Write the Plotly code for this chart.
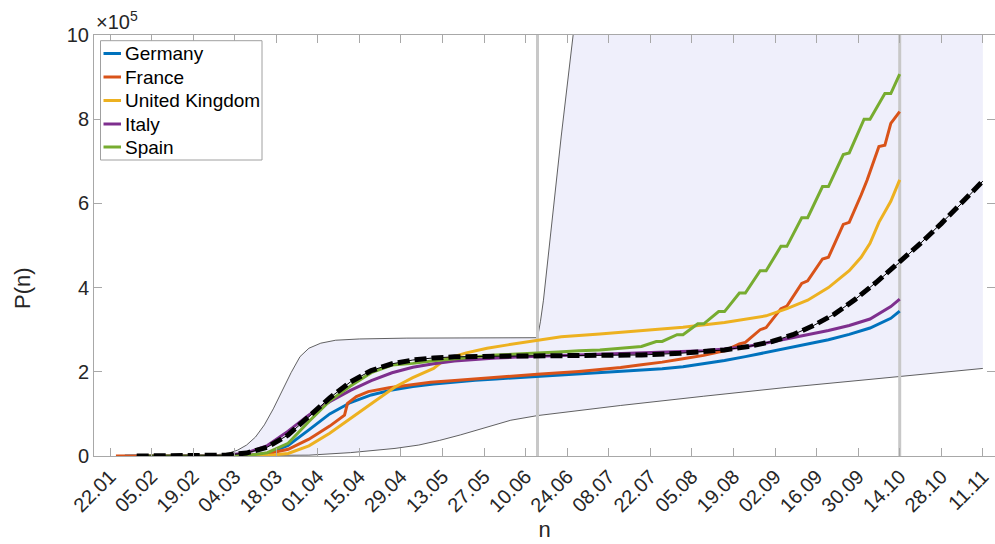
import plotly.graph_objects as go

# Cumulative confirmed cases, in units of 10^5
germany_dates = ["2020-01-27", "2020-02-26", "2020-03-01", "2020-03-08", "2020-03-15", "2020-03-22",
                 "2020-03-29", "2020-04-05", "2020-04-12", "2020-04-19", "2020-04-26", "2020-05-03",
                 "2020-05-10", "2020-05-17", "2020-05-24", "2020-05-31", "2020-06-07", "2020-06-14",
                 "2020-06-21", "2020-06-28", "2020-07-05", "2020-07-12", "2020-07-19", "2020-07-26",
                 "2020-08-02", "2020-08-09", "2020-08-16", "2020-08-23", "2020-08-30", "2020-09-06",
                 "2020-09-13", "2020-09-20", "2020-09-27", "2020-10-04", "2020-10-11", "2020-10-14"]
germany_vals = [0, 0.0002, 0.0013, 0.01, 0.058, 0.25,
                0.62, 1.00, 1.27, 1.45, 1.57, 1.65,
                1.71, 1.76, 1.80, 1.83, 1.86, 1.88,
                1.91, 1.95, 1.97, 2.00, 2.03, 2.07,
                2.12, 2.19, 2.27, 2.36, 2.46, 2.55,
                2.65, 2.76, 2.89, 3.04, 3.27, 3.44]

france_dates = ["2020-01-24", "2020-02-25", "2020-03-01", "2020-03-08", "2020-03-15", "2020-03-22",
                "2020-03-29", "2020-04-05", "2020-04-10", "2020-04-11", "2020-04-14", "2020-04-18",
                "2020-04-25", "2020-05-02", "2020-05-09", "2020-05-16", "2020-05-23", "2020-05-30",
                "2020-06-06", "2020-06-14", "2020-06-28", "2020-07-12", "2020-07-19", "2020-07-26",
                "2020-08-02", "2020-08-09", "2020-08-14", "2020-08-16", "2020-08-21", "2020-08-23",
                "2020-08-28", "2020-08-30", "2020-09-04", "2020-09-06", "2020-09-11", "2020-09-13",
                "2020-09-18", "2020-09-20", "2020-09-25", "2020-09-27", "2020-10-01", "2020-10-03",
                "2020-10-07", "2020-10-09", "2020-10-11", "2020-10-14"]
france_vals = [0, 0.0002, 0.001, 0.011, 0.055, 0.16,
               0.40, 0.71, 0.97, 1.25, 1.41, 1.53,
               1.62, 1.68, 1.75, 1.79, 1.83, 1.87,
               1.91, 1.94, 2.01, 2.10, 2.17, 2.23,
               2.31, 2.39, 2.47, 2.50, 2.66, 2.70,
               3.00, 3.05, 3.50, 3.56, 4.10, 4.16,
               4.68, 4.72, 5.50, 5.55, 6.20, 6.55,
               7.35, 7.38, 7.90, 8.18]

uk_dates = ["2020-01-31", "2020-03-01", "2020-03-08", "2020-03-15", "2020-03-22", "2020-03-29",
            "2020-04-05", "2020-04-12", "2020-04-19", "2020-04-27", "2020-05-03", "2020-05-10",
            "2020-05-14", "2020-05-21", "2020-05-28", "2020-06-04", "2020-06-14", "2020-06-22",
            "2020-07-05", "2020-07-19", "2020-08-02", "2020-08-16", "2020-08-30", "2020-09-06",
            "2020-09-13", "2020-09-20", "2020-09-27", "2020-10-01", "2020-10-04", "2020-10-07",
            "2020-10-11", "2020-10-14"]
uk_vals = [0, 0.0004, 0.003, 0.012, 0.06, 0.24,
           0.54, 0.90, 1.24, 1.64, 1.86, 2.08,
           2.30, 2.45, 2.56, 2.64, 2.74, 2.83,
           2.90, 2.98, 3.06, 3.17, 3.33, 3.50,
           3.70, 4.00, 4.40, 4.72, 5.05, 5.55,
           6.05, 6.56]

italy_dates = ["2020-01-31", "2020-02-21", "2020-02-24", "2020-03-01", "2020-03-08", "2020-03-15",
               "2020-03-22", "2020-03-29", "2020-04-05", "2020-04-12", "2020-04-19", "2020-04-26",
               "2020-05-03", "2020-05-10", "2020-05-17", "2020-05-24", "2020-05-31", "2020-06-07",
               "2020-06-14", "2020-06-28", "2020-07-12", "2020-07-26", "2020-08-09", "2020-08-16",
               "2020-08-23", "2020-08-30", "2020-09-06", "2020-09-13", "2020-09-20", "2020-09-27",
               "2020-10-04", "2020-10-11", "2020-10-14"]
italy_vals = [0, 0.0002, 0.0023, 0.017, 0.074, 0.247,
              0.59, 0.977, 1.29, 1.56, 1.79, 1.977,
              2.107, 2.19, 2.254, 2.299, 2.327, 2.349,
              2.367, 2.404, 2.43, 2.46, 2.501, 2.539,
              2.593, 2.682, 2.776, 2.878, 2.982, 3.099,
              3.253, 3.549, 3.728]

spain_dates = ["2020-02-01", "2020-02-25", "2020-03-01", "2020-03-08", "2020-03-15", "2020-03-22",
               "2020-03-29", "2020-04-05", "2020-04-12", "2020-04-19", "2020-04-26", "2020-05-03",
               "2020-05-10", "2020-05-17", "2020-05-24", "2020-05-31", "2020-06-07", "2020-06-14",
               "2020-06-21", "2020-06-28", "2020-07-05", "2020-07-12", "2020-07-17", "2020-07-19",
               "2020-07-24", "2020-07-26", "2020-07-31", "2020-08-02", "2020-08-07", "2020-08-09",
               "2020-08-14", "2020-08-16", "2020-08-21", "2020-08-23", "2020-08-28", "2020-08-30",
               "2020-09-04", "2020-09-06", "2020-09-11", "2020-09-13", "2020-09-18", "2020-09-20",
               "2020-09-25", "2020-09-27", "2020-10-02", "2020-10-04", "2020-10-09", "2020-10-11",
               "2020-10-14"]
spain_vals = [0, 0.0001, 0.0008, 0.007, 0.078, 0.30,
              0.82, 1.31, 1.66, 1.98, 2.16, 2.20,
              2.26, 2.31, 2.36, 2.40, 2.42, 2.44,
              2.47, 2.50, 2.52, 2.56, 2.60, 2.60,
              2.72, 2.72, 2.88, 2.88, 3.14, 3.14,
              3.43, 3.43, 3.87, 3.87, 4.40, 4.40,
              4.98, 4.98, 5.66, 5.66, 6.40, 6.40,
              7.16, 7.20, 8.00, 8.00, 8.61, 8.61,
              9.07]

# Fitted model P(n), continued past the last observation
model_dates = ["2020-01-31", "2020-02-20", "2020-03-01", "2020-03-08", "2020-03-15", "2020-03-22",
               "2020-03-29", "2020-04-05", "2020-04-12", "2020-04-19", "2020-04-26", "2020-05-03",
               "2020-05-10", "2020-05-17", "2020-05-31", "2020-06-14", "2020-07-01", "2020-07-19",
               "2020-08-01", "2020-08-16", "2020-08-24", "2020-09-01", "2020-09-08", "2020-09-15",
               "2020-09-22", "2020-09-29", "2020-10-06", "2020-10-14", "2020-10-21", "2020-10-28",
               "2020-11-04", "2020-11-11"]
model_vals = [0, 0.001, 0.02, 0.07, 0.21, 0.50,
              0.93, 1.38, 1.76, 2.03, 2.19, 2.28,
              2.33, 2.355, 2.37, 2.375, 2.38, 2.40,
              2.44, 2.52, 2.60, 2.72, 2.88, 3.10,
              3.37, 3.72, 4.12, 4.60, 5.05, 5.52,
              6.01, 6.53]

# Confidence band of the model
upper_dates = ["2020-01-31", "2020-02-20", "2020-02-27", "2020-03-02", "2020-03-05", "2020-03-08",
               "2020-03-11", "2020-03-14", "2020-03-17", "2020-03-20", "2020-03-23", "2020-03-26",
               "2020-03-29", "2020-04-02", "2020-04-07", "2020-04-15", "2020-05-01", "2020-06-14",
               "2020-06-15", "2020-06-16", "2020-06-19", "2020-06-22", "2020-06-26", "2020-07-01",
               "2020-07-10", "2020-11-11"]
upper_vals = [0, 0.005, 0.03, 0.07, 0.14, 0.26,
              0.45, 0.74, 1.12, 1.56, 1.98, 2.36,
              2.56, 2.68, 2.75, 2.78, 2.80, 2.81,
              3.2, 3.7, 5.7, 7.6, 10.0, 13.5,
              20.0, 200.0]
lower_dates = ["2020-01-31", "2020-03-15", "2020-03-29", "2020-04-12", "2020-04-27", "2020-05-05",
               "2020-05-12", "2020-05-19", "2020-05-28", "2020-06-05", "2020-06-14", "2020-07-12",
               "2020-08-09", "2020-09-06", "2020-10-04", "2020-10-14", "2020-11-11"]
lower_vals = [0, 0.002, 0.02, 0.08, 0.18, 0.26,
              0.37, 0.50, 0.68, 0.85, 0.96, 1.20,
              1.42, 1.63, 1.82, 1.89, 2.08]

# Boundaries of the fitting window
marker_dates = ["2020-06-14", "2020-10-14"]

y_ticks = [0, 2, 4, 6, 8, 10]

country_names = ["Germany", "France", "United Kingdom", "Italy", "Spain"]
country_colors = ["#0072BD", "#D95319", "#EDB120", "#7E2F8E", "#77AC30"]

# plot area in pixels (for converting fixed pixel offsets into paper units)
W, H = 995, 544
ML, MR, MT, MB = 94, 0, 35, 88
PW, PH = W - ML - MR, H - MT - MB


def px_x(px):
    return (px - ML) / PW


def px_y(py):
    return (H - MB - py) / PH


fig = go.Figure()

# shaded band: lower edge, then upper edge filled down to it
fig.add_trace(go.Scatter(x=lower_dates, y=lower_vals, mode="lines",
                         line=dict(color="#3a3a3a", width=0.8), showlegend=False, hoverinfo="skip"))
fig.add_trace(go.Scatter(x=upper_dates, y=upper_vals, mode="lines", fill="tonexty",
                         fillcolor="rgb(239,239,251)",
                         line=dict(color="#3a3a3a", width=0.8), showlegend=False, hoverinfo="skip"))

for d in marker_dates:
    fig.add_trace(go.Scatter(x=[d, d], y=[0, 10], mode="lines",
                             line=dict(color="rgb(200,200,200)", width=3),
                             showlegend=False, hoverinfo="skip"))

series = [germany_dates, france_dates, uk_dates, italy_dates, spain_dates]
values = [germany_vals, france_vals, uk_vals, italy_vals, spain_vals]
for name, color, xs, ys in zip(country_names, country_colors, series, values):
    fig.add_trace(go.Scatter(x=xs, y=ys, mode="lines", name=name, showlegend=False,
                             line=dict(color=color, width=3)))

fig.add_trace(go.Scatter(x=model_dates, y=model_vals, mode="lines",
                         line=dict(color="black", width=1), showlegend=False))
fig.add_trace(go.Scatter(x=model_dates, y=model_vals, mode="lines",
                         line=dict(color="black", width=5, dash="12px,5px"), showlegend=False))

axis_color = "#A8A8A8"
text_color = "#262626"
font_family = "Liberation Sans, Arial, sans-serif"

# legend box drawn in the upper-left corner of the axes
shapes = [dict(type="rect", xref="paper", yref="paper",
               x0=px_x(100.5), x1=px_x(262), y0=px_y(160), y1=px_y(40.7),
               line=dict(color="#A0A0A0", width=1), fillcolor="white", layer="above")]
annotations = []
entry_rows = [53.5, 77, 100.5, 124, 147]
for name, color, row in zip(country_names, country_colors, entry_rows):
    shapes.append(dict(type="line", xref="paper", yref="paper",
                       x0=px_x(103.5), x1=px_x(121), y0=px_y(row), y1=px_y(row),
                       line=dict(color=color, width=3), layer="above"))
    annotations.append(dict(text=name, x=px_x(123), y=px_y(row), xref="paper", yref="paper",
                            xanchor="left", yanchor="middle", showarrow=False,
                            font=dict(size=19, color="black", family=font_family)))

annotations.append(dict(text="×10<sup>5</sup>", x=0, y=1, xref="paper", yref="paper",
                        xanchor="left", yanchor="bottom", showarrow=False,
                        font=dict(size=20, color=text_color)))
annotations.append(dict(text="P(n)", x=px_x(22), y=px_y(288), xref="paper", yref="paper",
                        xanchor="center", yanchor="middle", textangle=-90, showarrow=False,
                        font=dict(size=22, color=text_color)))

fig.update_layout(
    width=W, height=H,
    margin=dict(l=ML, r=MR, t=MT, b=MB),
    paper_bgcolor="white", plot_bgcolor="white",
    font=dict(family=font_family, color=text_color),
    showlegend=False,
    xaxis=dict(type="date",
               range=["2020-01-16 14:38", "2020-11-15 02:24"],
               tick0="2020-01-22", dtick=14 * 86400000, tickformat="%d.%m",
               tickangle=-45, tickfont=dict(size=20),
               ticks="inside", ticklen=8, tickcolor=axis_color,
               showline=True, linecolor=axis_color, linewidth=1, mirror="allticks",
               showgrid=False, zeroline=False,
               title=dict(text="n", font=dict(size=22), standoff=6)),
    yaxis=dict(range=[0, 10], tickvals=y_ticks, ticktext=[str(v) for v in y_ticks],
               tickfont=dict(size=20),
               ticks="inside", ticklen=8, tickcolor=axis_color,
               showline=True, linecolor=axis_color, linewidth=1, mirror="allticks",
               showgrid=False, zeroline=False),
    shapes=shapes,
    annotations=annotations,
)

fig.write_html("out.html")
